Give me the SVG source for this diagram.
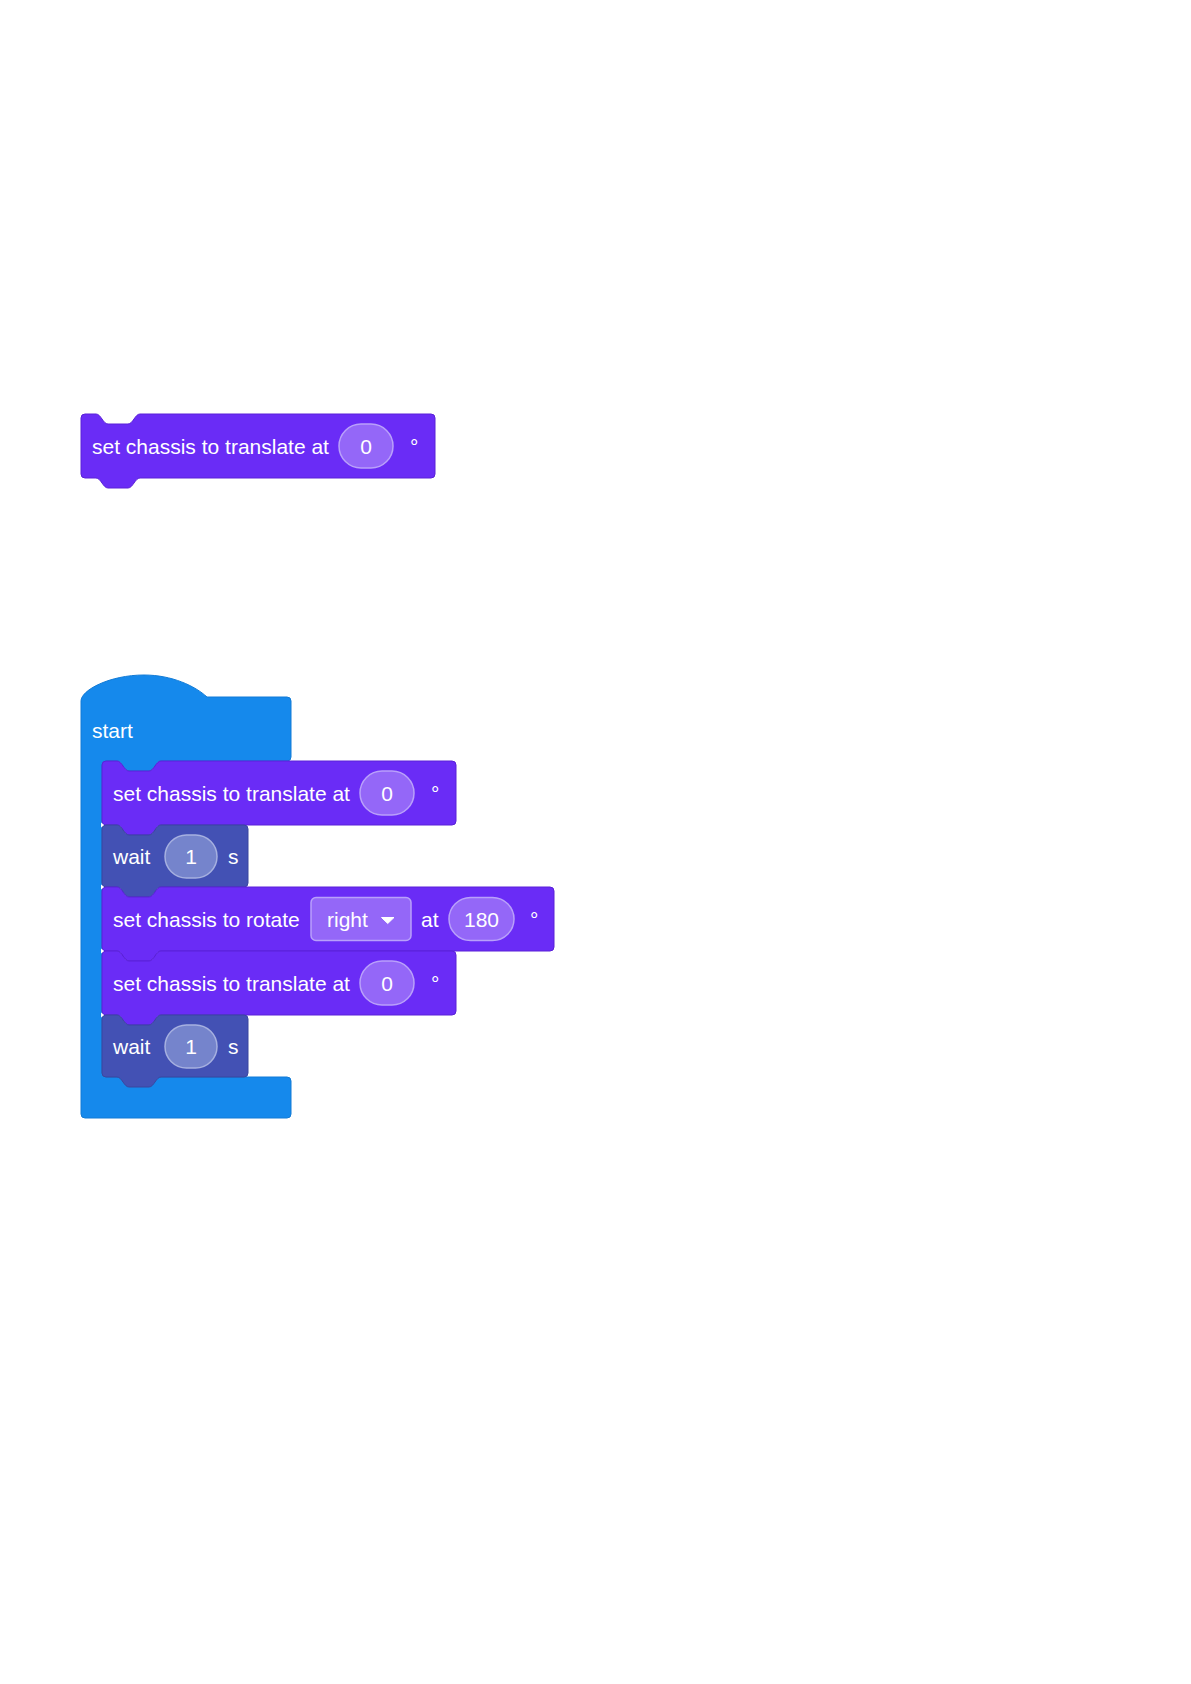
<svg xmlns="http://www.w3.org/2000/svg" width="1191" height="1684" viewBox="0 0 1191 1684">
<style>
text{font-family:"Liberation Sans",Arial,sans-serif;font-size:21px;fill:#ffffff}
.mid{text-anchor:middle}
.purple{fill:#6a2cf6;stroke:#5a20d8;stroke-width:1}
.waitb{fill:#4351b4;stroke:#3a479f;stroke-width:1}
.startb{fill:#1589ec;stroke:#127bd6;stroke-width:1}
.ppill{fill:#9467f8;stroke:#b9a0fa;stroke-width:1.5}
.wpill{fill:#7584cc;stroke:#a6b0e0;stroke-width:1.5}
.mark{fill:#ffffff}
</style>
<defs>
<path id="tr64" d="M0,4 Q0,0 4,0 H15 C20,0 22,10 27,10 H47 C52,10 54,0 59,0 H350 Q354,0 354,4 V60 Q354,64 350,64 H59 C54,64 52,74 47,74 H27 C22,74 20,64 15,64 H4 Q0,64 0,60 Z"/>
<path id="wt62" d="M0,4 Q0,0 4,0 H15 C20,0 22,10 27,10 H47 C52,10 54,0 59,0 H142 Q146,0 146,4 V58 Q146,62 142,62 H59 C54,62 52,72 47,72 H27 C22,72 20,62 15,62 H4 Q0,62 0,58 Z"/>
<path id="rt64" d="M0,4 Q0,0 4,0 H15 C20,0 22,10 27,10 H47 C52,10 54,0 59,0 H448 Q452,0 452,4 V60 Q452,64 448,64 H59 C54,64 52,74 47,74 H27 C22,74 20,64 15,64 H4 Q0,64 0,60 Z"/>
</defs>

<g id="block-translate-standalone" transform="translate(81,414)">
<use href="#tr64" class="purple"/>
<text x="11" y="39.5">set chassis to translate at</text>
<rect class="ppill" x="258" y="10" width="54" height="44" rx="22"/>
<text class="mid" x="285" y="39.5">0</text>
<text x="329" y="39.5">°</text>
</g>

<g id="block-start">
<path class="startb" d="M81,701 C81,690 110,675 144,675 C172,675 195,686 207,697 H287 Q291,697 291,701 V757 Q291,761 287,761 H161 C156,761 154,771 149,771 H129 C124,771 122,761 117,761 H106 Q102,761 102,765 V1073 Q102,1077 106,1077 H287 Q291,1077 291,1081 V1114 Q291,1118 287,1118 H85 Q81,1118 81,1114 Z"/>
<text x="92" y="737.5">start</text>
</g>

<g id="block-translate-1" transform="translate(102,761)">
<use href="#tr64" class="purple"/>
<text x="11" y="39.5">set chassis to translate at</text>
<rect class="ppill" x="258" y="10" width="54" height="44" rx="22"/>
<text class="mid" x="285" y="39.5">0</text>
<text x="329" y="39.5">°</text>
</g>

<g id="block-wait-1" transform="translate(102,825)">
<use href="#wt62" class="waitb"/>
<text x="11" y="38.5">wait</text>
<rect class="wpill" x="63" y="10" width="52" height="43" rx="21.5"/>
<text class="mid" x="89" y="38.5">1</text>
<text x="126" y="38.5">s</text>
</g>

<g id="block-rotate" transform="translate(102,887)">
<use href="#rt64" class="purple"/>
<text x="11" y="39.5">set chassis to rotate</text>
<rect class="ppill" x="209" y="10.5" width="100" height="43" rx="5"/>
<text x="225" y="39.5">right</text>
<path d="M279.5,30.5 H292 L285.75,36.5 Z" fill="#ffffff" stroke="#ffffff" stroke-width="1" stroke-linejoin="round"/>
<text x="319" y="39.5">at</text>
<rect class="ppill" x="347" y="10.5" width="65" height="43" rx="21.5"/>
<text class="mid" x="379.5" y="39.5">180</text>
<text x="428" y="39.5">°</text>
</g>

<g id="block-translate-2" transform="translate(102,951)">
<use href="#tr64" class="purple"/>
<text x="11" y="39.5">set chassis to translate at</text>
<rect class="ppill" x="258" y="10" width="54" height="44" rx="22"/>
<text class="mid" x="285" y="39.5">0</text>
<text x="329" y="39.5">°</text>
</g>

<g id="block-wait-2" transform="translate(102,1015)">
<use href="#wt62" class="waitb"/>
<text x="11" y="38.5">wait</text>
<rect class="wpill" x="63" y="10" width="52" height="43" rx="21.5"/>
<text class="mid" x="89" y="38.5">1</text>
<text x="126" y="38.5">s</text>
</g>

<g id="connectors">
<path class="mark" d="M101,822.5 L104,825 L101,827.5 Z"/>
<path class="mark" d="M101,884.5 L104,887 L101,889.5 Z"/>
<path class="mark" d="M101,948.5 L104,951 L101,953.5 Z"/>
<path class="mark" d="M101,1012.5 L104,1015 L101,1017.5 Z"/>
</g>
</svg>
